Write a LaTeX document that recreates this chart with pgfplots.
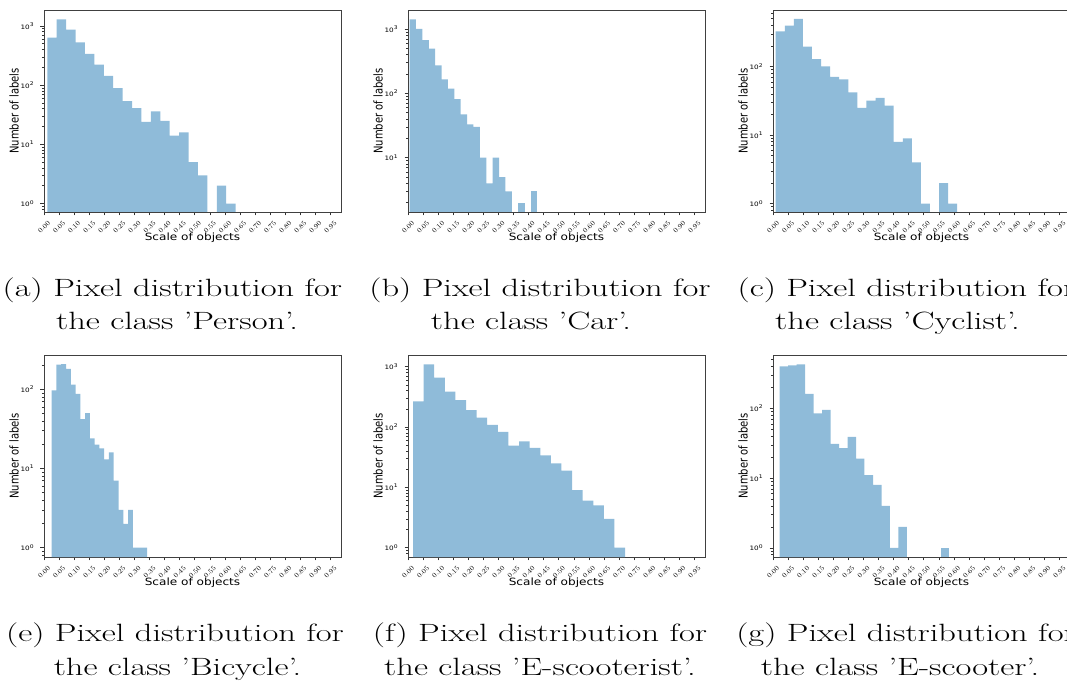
\documentclass[border=0pt]{standalone}
\usepackage{pgfplots}
\pgfplotsset{compat=1.18}
\usepackage{graphicx}
\usepackage{fontspec}
\newfontfamily\dejavu{DejaVu Sans}
\definecolor{barblue}{HTML}{8FBBD9}
\newcommand{\yl}[1]{\scalebox{1.21}[1]{\dejavu\fontsize{6}{7}\selectfont 10\textsuperscript{#1}}}
\newlength\capw
\newcommand{\capfont}{\fontsize{25}{30}\selectfont}
\newcommand{\capline}[1]{\scalebox{\capk}[1]{\capfont #1}}
\newcommand{\xtl}[1]{\rotatebox{45}{\dejavu\fontsize{6.8}{7.5}\selectfont\pgfmathprintnumber[fixed,fixed zerofill,precision=2]{#1}}}
\pgfplotsset{
  /pgfplots/mypanel/.style={
    scale only axis, width=297pt, height=202pt, anchor=south west,
    xmin=0, xmax=0.985,
    xtick={0,0.05,...,0.95},
    xticklabel={\xtl{\tick}},
    xticklabel style={anchor=center, inner sep=0pt, yshift=-11.5pt},
    yticklabel style={anchor=east, inner sep=0pt, xshift=-6pt},
    minor ytick={0.8,0.9,2,3,4,5,6,7,8,9,20,30,40,50,60,70,80,90,200,300,400,500,600,700,800,900,2000},
    tick align=outside, tick pos=left,
    major tick length=3.5pt, minor tick length=2pt,
    axis line style={black!75, line width=0.8pt},
    tick style={black!80, line width=0.6pt},
    xlabel={\scalebox{1.21}[1]{\dejavu\fontsize{10}{12}\selectfont Scale of objects}},
    ylabel={\scalebox{1.21}[1]{\rotatebox{90}{\dejavu\fontsize{10}{12}\selectfont Number of labels}}},
    every axis x label/.style={at={(axis description cs:0.5,0)}, anchor=center, yshift=-25.5pt},
    every axis y label/.style={at={(axis description cs:0,0.5)}, anchor=center, xshift=-30pt},
  },
  /pgfplots/hbar/.style={ybar interval, fill=barblue, draw=none},
}
\begin{document}
\settowidth\capw{\capfont (a) Pixel distribution for}%
\pgfmathsetmacro\capk{339.5/\capw}%
\begin{tikzpicture}
\useasboundingbox (0,0) rectangle (1067pt,688pt);
\clip (0,0) rectangle (1067pt,688pt);
% (a) Person
\begin{axis}[ymode=log, log origin y=infty, mypanel, at={(44pt,476pt)}, ymin=0.72, ymax=1862,
  ytick={1,10,100,1000}, yticklabels={\yl{0},\yl{1},\yl{2},\yl{3}}]
\addplot[hbar] coordinates {(0.0110,635) (0.0422,1296) (0.0735,867) (0.1047,530) (0.1359,337) (0.1672,222) (0.1984,143) (0.2296,89) (0.2608,54) (0.2921,41) (0.3233,24) (0.3545,36) (0.3858,25) (0.4170,14) (0.4482,16) (0.4795,5) (0.5107,3) (0.5419,3)};
\addplot[hbar] coordinates {(0.5731,2) (0.6044,1) (0.6356,1)};
\end{axis}
% (b) Car
\begin{axis}[ymode=log, log origin y=infty, mypanel, at={(408pt,476pt)}, ymin=1.43, ymax=1974,
  ytick={10,100,1000}, yticklabels={\yl{1},\yl{2},\yl{3}}]
\addplot[hbar] coordinates {(0.0053,1413) (0.0265,1000) (0.0477,674) (0.0689,494) (0.0901,272) (0.1113,165) (0.1324,118) (0.1536,81) (0.1748,47) (0.1960,33) (0.2172,30) (0.2384,10) (0.2596,4) (0.2808,10) (0.3020,5) (0.3232,3) (0.3443,3)};
\addplot[hbar] coordinates {(0.3655,2) (0.3867,2)};
\addplot[hbar] coordinates {(0.4079,3) (0.4291,3)};
\end{axis}
% (c) Cyclist
\begin{axis}[ymode=log, log origin y=infty, mypanel, at={(773pt,476pt)}, ymin=0.755, ymax=671,
  ytick={1,10,100}, yticklabels={\yl{0},\yl{1},\yl{2}}]
\addplot[hbar] coordinates {(0.0089,328) (0.0390,397) (0.0691,497) (0.0992,196) (0.1293,129) (0.1594,101) (0.1895,71) (0.2196,65) (0.2497,42) (0.2798,25) (0.3099,32) (0.3400,35) (0.3701,27) (0.4002,8) (0.4303,9) (0.4604,4) (0.4905,1) (0.5206,1)};
\addplot[hbar] coordinates {(0.5507,2) (0.5808,1) (0.6109,1)};
\end{axis}
% (e) Bicycle
\begin{axis}[ymode=log, log origin y=infty, mypanel, at={(44pt,131pt)}, ymin=0.76, ymax=272,
  ytick={1,10,100}, yticklabels={\yl{0},\yl{1},\yl{2}}]
\addplot[hbar] coordinates {(0.0256,97) (0.0414,205) (0.0572,209) (0.0731,181) (0.0889,115) (0.1047,88) (0.1205,42) (0.1363,50) (0.1522,24) (0.1680,20) (0.1838,18) (0.1996,13) (0.2154,16) (0.2313,7) (0.2471,3) (0.2629,2) (0.2787,3) (0.2945,1) (0.3104,1) (0.3262,1) (0.3420,1)};
\end{axis}
% (f) E-scooterist
\begin{axis}[ymode=log, log origin y=infty, mypanel, at={(408pt,131pt)}, ymin=0.70, ymax=1563,
  ytick={1,10,100,1000}, yticklabels={\yl{0},\yl{1},\yl{2},\yl{3}}]
\addplot[hbar] coordinates {(0.0166,266) (0.0518,1093) (0.0869,656) (0.1221,387) (0.1573,280) (0.1925,191) (0.2276,143) (0.2628,109) (0.2980,83) (0.3331,49) (0.3683,58) (0.4035,45) (0.4386,34) (0.4738,25) (0.5090,19) (0.5442,9) (0.5793,6) (0.6145,5) (0.6497,3) (0.6848,1) (0.7200,1)};
\end{axis}
% (g) E-scooter
\begin{axis}[ymode=log, log origin y=infty, mypanel, at={(773pt,131pt)}, ymin=0.74, ymax=583,
  ytick={1,10,100}, yticklabels={\yl{0},\yl{1},\yl{2}}]
\addplot[hbar] coordinates {(0.0217,401) (0.0499,414) (0.0780,428) (0.1062,161) (0.1344,85) (0.1626,95) (0.1907,31) (0.2189,27) (0.2471,39) (0.2753,19) (0.3034,11) (0.3316,8) (0.3598,4) (0.3879,1) (0.4161,2) (0.4443,2)};
\addplot[hbar] coordinates {(0.5570,1) (0.5851,1)};
\end{axis}
% captions
\node[anchor=base] at (172.4pt,391pt) {\capline{(a) Pixel distribution for}};
\node[anchor=base] at (177pt,358.5pt) {\capline{the class 'Person'.}};
\node[anchor=base] at (540pt,391pt) {\capline{(b) Pixel distribution for}};
\node[anchor=base] at (531pt,358.5pt) {\capline{the class 'Car'.}};
\node[anchor=base] at (906.4pt,391pt) {\capline{(c) Pixel distribution for}};
\node[anchor=base] at (897.5pt,358.5pt) {\capline{the class 'Cyclist'.}};
\node[anchor=base] at (175pt,46.5pt) {\capline{(e) Pixel distribution for}};
\node[anchor=base] at (177.5pt,13pt) {\capline{the class 'Bicycle'.}};
\node[anchor=base] at (540pt,46.5pt) {\capline{(f) Pixel distribution for}};
\node[anchor=base] at (540pt,13pt) {\capline{the class 'E-scooterist'.}};
\node[anchor=base] at (906pt,46.5pt) {\capline{(g) Pixel distribution for}};
\node[anchor=base] at (900pt,13pt) {\capline{the class 'E-scooter'.}};
\end{tikzpicture}
\end{document}
